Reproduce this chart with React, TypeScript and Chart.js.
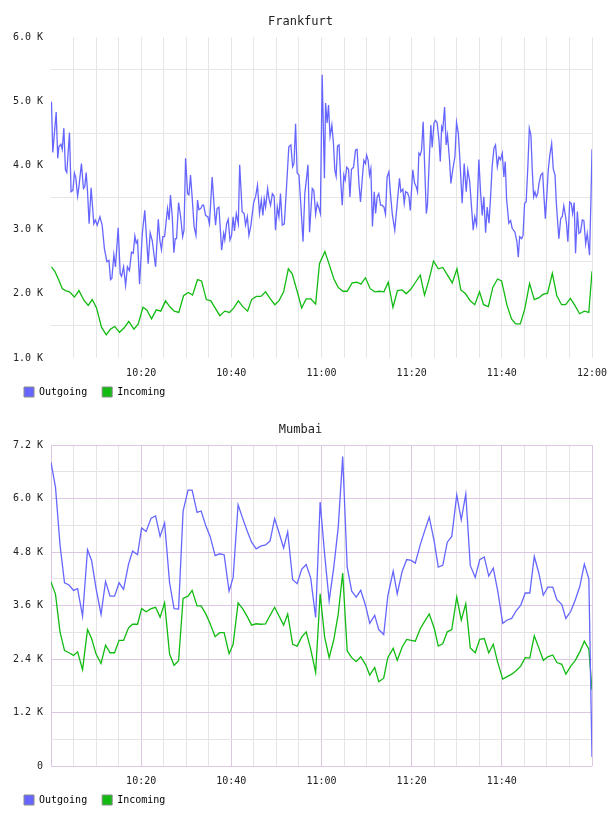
import React, { useEffect, useRef } from 'react';
import { Chart, registerables } from 'chart.js';

Chart.register(...registerables);

const FONT = "'DejaVu Sans Mono', monospace";
const OUT_COLOR = '#6666ff';
const IN_COLOR = '#11bb11';

// ---------- Frankfurt (minutes after 10:00, values in K) ----------
const frOutT = [
  0.1, 0.4, 1.15, 1.5, 1.75, 2.2, 2.5, 2.85, 3.2, 3.5,
  4.1, 4.45, 4.85, 5.2, 5.5, 5.9, 6.2, 6.75, 7.2, 7.5,
  7.8, 8.1, 8.45, 8.9, 9.5, 9.85, 10.25, 10.85, 11.35, 11.85,
  12.4, 12.85, 13.2, 13.5, 13.95, 14.3, 14.9, 15.35, 15.65, 16.1,
  16.55, 16.95, 17.4, 17.85, 18.25, 18.6, 18.9, 19.2, 19.65, 20.25,
  20.8, 21.55, 22.0, 22.45, 23.2, 23.8, 24.15, 24.5, 24.8, 25.2,
  25.85, 26.2, 26.5, 26.9, 27.25, 27.55, 27.85, 28.3, 28.75, 29.2,
  29.5, 29.85, 30.3, 30.6, 30.95, 31.3, 31.75, 32.15, 32.5, 32.8,
  33.25, 33.55, 33.85, 34.3, 34.8, 35.15, 35.75, 36.15, 36.5, 36.85,
  37.25, 37.85, 38.3, 38.55, 38.95, 39.3, 39.7, 40.05, 40.4, 40.7,
  41.1, 41.55, 41.85, 42.4, 42.85, 43.15, 43.55, 43.9, 44.35, 44.95,
  45.4, 45.8, 46.25, 46.65, 47.0, 47.3, 47.6, 48.05, 48.35, 48.7,
  49.1, 49.5, 49.8, 50.2, 50.55, 50.9, 51.3, 51.75, 52.2, 52.75,
  53.2, 53.6, 53.9, 54.25, 54.6, 55.0, 55.45, 55.9, 56.3, 57.0,
  57.35, 57.95, 58.3, 58.7, 59.05, 59.45, 59.75,
  60.15, 60.65, 60.9, 61.25, 61.55, 61.9, 62.3, 62.65, 62.95, 63.25,
  63.55, 63.9, 64.3, 64.6, 64.95, 65.25, 65.6, 66.0, 66.3, 66.65,
  67.1, 67.55, 67.9, 68.3, 68.65, 69.05, 69.4, 69.75, 70.0, 70.35,
  70.65, 70.95, 71.3, 71.7, 72.0, 72.35, 72.7, 73.1, 73.45, 73.85,
  74.2, 74.55, 74.95, 75.3, 75.7, 76.25, 76.8, 77.3, 77.6, 78.05,
  78.35, 78.65, 79.1, 79.4, 79.7, 80.25, 80.65, 81.0, 81.3, 81.6,
  81.9, 82.2, 82.55, 82.95, 83.25, 83.5, 83.9, 84.25, 84.55, 84.95,
  85.3, 85.65, 86.05, 86.35, 86.65, 86.9, 87.3, 87.65, 87.95, 88.4,
  88.7, 89.15, 89.6, 89.95, 90.35, 90.7, 91.2, 91.65, 92.1, 92.45,
  92.85, 93.3, 93.65, 94.0, 94.4, 94.9, 95.3, 95.65, 96.0, 96.4,
  96.75, 97.15, 97.5, 97.85, 98.25, 98.6, 99.0, 99.35, 99.7, 100.1,
  100.45, 100.75, 101.05, 101.55, 101.95, 102.3, 102.9, 103.35, 103.65, 103.95,
  104.4, 104.7, 105.05, 105.4, 105.8, 106.1, 106.45, 106.75, 107.05, 107.35,
  107.65, 107.95, 108.25, 108.65, 109.05, 109.35, 109.65, 110.0, 110.3, 110.65,
  111.05, 111.4, 111.8, 112.05, 112.35, 112.65, 113.05, 113.4, 113.75, 114.15,
  114.35, 114.65, 115.05, 115.4, 115.7, 116.05, 116.35, 116.75, 117.1, 117.45,
  117.85, 118.2, 118.6, 118.95, 119.15, 119.45, 119.75, 120.0,
];
const frOutV = [
  4.99, 4.20, 4.83, 4.11, 4.29, 4.33, 4.25, 4.58, 3.93, 3.89,
  4.51, 3.59, 3.61, 3.88, 3.81, 3.52, 3.67, 4.03, 3.64, 3.67,
  3.89, 3.60, 3.09, 3.65, 3.09, 3.15, 3.07, 3.20, 3.07, 2.70,
  2.50, 2.52, 2.22, 2.24, 2.61, 2.42, 3.03, 2.31, 2.27, 2.42,
  2.13, 2.42, 2.36, 2.65, 2.63, 2.90, 2.79, 2.83, 2.15, 2.94,
  3.30, 2.47, 2.95, 2.83, 2.42, 3.16, 2.83, 2.69, 2.89, 2.89,
  3.33, 3.15, 3.54, 3.20, 2.64, 2.86, 2.86, 3.42, 3.20, 2.89,
  2.99, 4.11, 3.56, 3.54, 3.85, 3.51, 3.04, 2.91, 3.46, 3.31,
  3.33, 3.38, 3.38, 3.22, 3.20, 3.09, 3.82, 3.40, 3.07, 3.33,
  3.35, 2.68, 2.94, 2.84, 3.09, 3.16, 2.84, 2.91, 3.20, 2.98,
  3.25, 3.09, 4.01, 3.28, 3.25, 3.07, 3.20, 2.91, 3.07, 3.42,
  3.52, 3.69, 3.25, 3.46, 3.22, 3.48, 3.35, 3.64, 3.48, 3.38,
  3.56, 3.52, 2.99, 3.35, 3.20, 3.56, 3.07, 3.09, 3.61, 4.29,
  4.32, 3.98, 4.03, 4.65, 3.88, 3.85, 3.35, 2.81, 3.56, 4.01,
  2.96, 3.64, 3.61, 3.24, 3.41, 3.33, 3.25,
  5.41, 3.80, 4.97, 4.66, 4.94, 4.45, 4.63, 4.34, 3.93, 3.83,
  4.30, 4.32, 3.72, 3.38, 3.85, 3.77, 3.97, 3.94, 3.51, 3.94,
  3.97, 4.24, 4.25, 3.72, 3.43, 3.80, 4.08, 4.03, 4.16, 4.08,
  3.85, 3.95, 3.05, 3.59, 3.25, 3.51, 3.56, 3.38, 3.38, 3.35,
  3.24, 3.82, 3.90, 3.56, 3.24, 2.99, 3.41, 3.80, 3.59, 3.63,
  3.41, 3.59, 3.57, 3.51, 3.30, 3.93, 3.72, 3.67, 3.59, 4.19,
  4.16, 4.24, 4.68, 3.85, 3.25, 3.38, 4.08, 4.63, 4.28, 4.66,
  4.70, 4.66, 4.40, 4.06, 4.60, 4.55, 4.91, 4.32, 4.47, 4.08,
  3.72, 3.95, 4.14, 4.67, 4.50, 4.08, 3.41, 4.03, 3.59, 3.93,
  3.76, 3.33, 2.99, 3.20, 3.07, 4.09, 3.56, 3.22, 3.51, 2.95,
  3.35, 3.10, 3.51, 3.98, 4.27, 4.32, 3.98, 4.13, 4.09, 4.19,
  3.82, 4.06, 3.48, 3.10, 3.14, 3.02, 2.96, 2.81, 2.57, 2.89,
  2.86, 2.91, 3.41, 3.43, 4.03, 4.58, 4.47, 3.93, 3.51, 3.59,
  3.51, 3.56, 3.72, 3.85, 3.88, 3.51, 3.17, 3.56, 3.93, 4.16,
  4.34, 3.95, 3.85, 3.46, 3.15, 2.86, 3.17, 3.20, 3.37, 3.20,
  3.09, 2.81, 3.43, 3.41, 3.25, 3.42, 2.63, 3.28, 2.94, 2.96,
  3.15, 3.14, 2.78, 2.94, 2.81, 2.60, 3.41, 4.25,
];
const frInT = [
  0.1, 0.85, 1.75, 2.5, 3.2, 4.1, 5.2, 6.2, 7.3, 8.25,
  9.15, 10.1, 11.2, 12.25, 13.2, 14.15, 15.2, 16.25, 17.25, 18.4,
  19.35, 20.4, 21.25, 22.3, 23.35, 24.35, 25.4, 26.45, 27.35, 28.35,
  29.4, 30.45, 31.4, 32.5, 33.4, 34.45, 35.45, 36.5, 37.45, 38.55,
  39.6, 40.55, 41.55, 42.55, 43.6, 44.5, 45.55, 46.55, 47.6, 48.65,
  49.65, 50.55, 51.6, 52.65, 53.5, 54.6, 55.6, 56.6, 57.65, 58.7,
  59.55, 60.75, 61.65, 62.75, 63.7, 64.75, 65.7, 66.8, 67.85, 68.75,
  69.75, 70.8, 71.85, 72.85, 73.85, 74.8, 75.85, 76.85, 77.9, 78.8,
  79.8, 80.85, 81.9, 82.85, 83.8, 84.85, 85.9, 86.9, 87.95, 89.0,
  90.05, 90.9, 91.95, 93.0, 94.0, 95.05, 95.95, 97.0, 98.0, 99.05,
  99.95, 101.15, 102.15, 103.05, 104.1, 105.1, 106.15, 107.2, 108.25, 109.1,
  110.15, 111.2, 112.2, 113.25, 114.15, 115.2, 116.2, 117.25, 118.3, 119.3,
  120.0,
];
const frInV = [
  2.42, 2.35, 2.21, 2.08, 2.05, 2.03, 1.95, 2.05, 1.90, 1.82,
  1.91, 1.78, 1.48, 1.36, 1.45, 1.49, 1.40, 1.47, 1.57, 1.45,
  1.53, 1.79, 1.75, 1.61, 1.75, 1.73, 1.89, 1.79, 1.73, 1.71,
  1.97, 2.02, 1.98, 2.22, 2.20, 1.91, 1.89, 1.77, 1.66, 1.73,
  1.71, 1.78, 1.89, 1.80, 1.73, 1.91, 1.96, 1.96, 2.03, 1.92,
  1.83, 1.89, 2.03, 2.39, 2.31, 2.04, 1.78, 1.92, 1.92, 1.84,
  2.47, 2.66, 2.47, 2.23, 2.10, 2.04, 2.04, 2.17, 2.18, 2.15,
  2.25, 2.08, 2.03, 2.04, 2.03, 2.18, 1.79, 2.05, 2.06, 2.00,
  2.07, 2.18, 2.29, 1.98, 2.21, 2.51, 2.39, 2.41, 2.29, 2.17,
  2.39, 2.06, 2.00, 1.89, 1.83, 2.03, 1.83, 1.80, 2.10, 2.23,
  2.20, 1.82, 1.61, 1.53, 1.53, 1.77, 2.16, 1.91, 1.94, 1.99,
  2.01, 2.32, 1.97, 1.83, 1.83, 1.93, 1.82, 1.69, 1.73, 1.71,
  2.35,
];

// ---------- Mumbai (minutes after 10:00, values in K) ----------
const muT = [
  0, 1.0, 2.0, 3.0, 4.0, 5.0, 5.9, 7.0, 8.1, 9.0,
  10.0, 11.1, 12.1, 13.1, 14.1, 15.1, 16.1, 17.2, 18.1, 19.2,
  20.1, 21.1, 22.2, 23.2, 24.2, 25.2, 26.3, 27.3, 28.3, 29.3,
  30.4, 31.3, 32.4, 33.3, 34.4, 35.3, 36.4, 37.4, 38.4, 39.5,
  40.4, 41.5, 42.5, 43.6, 44.5, 45.5, 46.5, 47.6, 48.6, 49.6,
  50.5, 51.6, 52.5, 53.6, 54.6, 55.6, 56.6, 57.6, 58.7, 59.7,
  60.7, 61.7, 62.7, 63.7, 64.7, 65.7, 66.7, 67.7, 68.7, 69.8,
  70.7, 71.8, 72.7, 73.8, 74.7, 75.9, 76.8, 77.9, 78.9, 79.9,
  80.8, 81.9, 82.9, 83.9, 85.0, 85.9, 86.9, 87.9, 88.9, 90.0,
  91.0, 92.0, 93.0, 94.1, 95.1, 96.1, 97.1, 98.1, 99.1, 100.2,
  101.1, 102.2, 103.1, 104.2, 105.2, 106.2, 107.2, 108.2, 109.2, 110.2,
  111.3, 112.2, 113.3, 114.2, 115.3, 116.3, 117.3, 118.3, 119.3, 120.0,
];
const muOutV = [
  6.81, 6.25, 4.96, 4.11, 4.06, 3.94, 3.98, 3.36, 4.85, 4.61,
  3.98, 3.40, 4.14, 3.81, 3.81, 4.11, 3.96, 4.53, 4.82, 4.74,
  5.34, 5.26, 5.56, 5.61, 5.15, 5.45, 4.11, 3.53, 3.52, 5.72,
  6.19, 6.19, 5.69, 5.72, 5.37, 5.15, 4.72, 4.76, 4.74, 3.92,
  4.23, 5.86, 5.56, 5.25, 5.02, 4.87, 4.93, 4.96, 5.05, 5.55,
  5.26, 4.89, 5.25, 4.18, 4.09, 4.41, 4.52, 4.22, 3.33, 5.92,
  4.74, 3.71, 4.44, 5.34, 6.94, 4.46, 3.92, 3.79, 3.94, 3.59,
  3.20, 3.38, 3.06, 2.95, 3.81, 4.37, 3.86, 4.37, 4.63, 4.61,
  4.55, 4.96, 5.28, 5.58, 5.04, 4.46, 4.50, 5.02, 5.15, 6.08,
  5.52, 6.10, 4.50, 4.23, 4.63, 4.69, 4.26, 4.44, 3.92, 3.20,
  3.27, 3.31, 3.47, 3.61, 3.88, 3.88, 4.70, 4.33, 3.83, 4.01,
  4.01, 3.73, 3.62, 3.31, 3.47, 3.73, 4.03, 4.53, 4.20, 0.20,
];
const muInV = [
  4.13, 3.85, 3.01, 2.59, 2.54, 2.48, 2.56, 2.16, 3.06, 2.86,
  2.51, 2.30, 2.71, 2.54, 2.54, 2.82, 2.82, 3.10, 3.18, 3.18,
  3.53, 3.46, 3.53, 3.56, 3.34, 3.66, 2.51, 2.26, 2.36, 3.76,
  3.81, 3.94, 3.59, 3.59, 3.40, 3.19, 2.90, 2.99, 2.99, 2.52,
  2.73, 3.66, 3.53, 3.34, 3.16, 3.19, 3.18, 3.19, 3.38, 3.56,
  3.38, 3.16, 3.41, 2.73, 2.69, 2.89, 3.01, 2.62, 2.10, 3.86,
  2.89, 2.43, 2.82, 3.40, 4.33, 2.58, 2.43, 2.34, 2.45, 2.27,
  2.04, 2.21, 1.89, 1.97, 2.43, 2.64, 2.37, 2.67, 2.84, 2.82,
  2.80, 3.08, 3.25, 3.41, 3.09, 2.69, 2.74, 3.01, 3.06, 3.79,
  3.27, 3.64, 2.65, 2.54, 2.84, 2.86, 2.54, 2.73, 2.32, 1.95,
  2.00, 2.06, 2.13, 2.24, 2.43, 2.42, 2.92, 2.65, 2.37, 2.45,
  2.49, 2.32, 2.28, 2.06, 2.24, 2.37, 2.56, 2.80, 2.62, 1.70,
];

const SERIES_LABELS = ['Outgoing', 'Incoming'];

const fmtTime = (m: number) => {
  const h = 10 + Math.floor(m / 60);
  const mm = m % 60;
  return `${h}:${mm < 10 ? '0' : ''}${mm}`;
};

const pts = (t: number[], v: number[]) => t.map((x, i) => ({ x, y: Math.round(v[i] * 1000) }));

function buildConfig(p: {
  title: string;
  outT: number[];
  outV: number[];
  inT: number[];
  inV: number[];
  yMin: number;
  yMax: number;
  yStep: number;
  yLabelEvery: number;
  mumbai: boolean;
}): any {
  const MAJOR = '#dcc6e2';
  const MINOR = '#e4e4e4';
  const FRGRID = '#e6e6e6';
  const isYLabel = (v: number) => Math.round(v - p.yMin) % p.yLabelEvery === 0;
  return {
    type: 'line',
    data: {
      datasets: [
        {
          label: SERIES_LABELS[0],
          data: pts(p.outT, p.outV),
          borderColor: OUT_COLOR,
          backgroundColor: OUT_COLOR,
          borderWidth: 1.3,
          pointRadius: 0,
          tension: 0,
        },
        {
          label: SERIES_LABELS[1],
          data: pts(p.inT, p.inV),
          borderColor: IN_COLOR,
          backgroundColor: IN_COLOR,
          borderWidth: 1.3,
          pointRadius: 0,
          tension: 0,
        },
      ],
    },
    options: {
      animation: false,
      responsive: false,
      devicePixelRatio: 1,
      layout: { padding: { left: 9, right: 16, top: 0, bottom: 1 }, autoPadding: false },
      plugins: {
        title: {
          display: true,
          text: p.title,
          color: '#222',
          font: { family: FONT, size: 12, weight: 'normal' },
          padding: { top: 14.6, bottom: 8 },
        },
        legend: {
          display: true,
          position: 'bottom',
          align: 'start',
          labels: {
            boxWidth: 10,
            boxHeight: 10,
            padding: 15,
            color: '#222',
            font: { family: FONT, size: 10 },
            generateLabels: (chart: any) =>
              chart.data.datasets.map((ds: any, i: number) => ({
                text: ds.label,
                fillStyle: ds.borderColor,
                strokeStyle: '#8a8a8a',
                lineWidth: 1,
                hidden: false,
                datasetIndex: i,
              })),
          },
        },
        tooltip: { enabled: false },
      },
      scales: {
        x: {
          type: 'linear',
          min: 0,
          max: 120,
          afterFit: (s: any) => {
            s.height = 14;
            s.paddingLeft = 0;
            s.paddingRight = 0;
            // let tick labels extend below the (short) axis box without being clipped
            s._computeLabelArea = () => undefined;
          },
          border: { display: false },
          grid: {
            drawTicks: false,
            lineWidth: 1,
            color: (c: any) => {
              const v = c.tick ? c.tick.value : 0;
              if (p.mumbai) return v % 20 === 0 ? MAJOR : MINOR;
              return v === 0 ? 'rgba(0,0,0,0)' : FRGRID;
            },
          },
          ticks: {
            stepSize: 5,
            autoSkip: false,
            maxRotation: 0,
            padding: 9,
            color: '#222',
            font: { family: FONT, size: 10 },
            callback: (val: any) => {
              const v = Number(val);
              if (v % 20 !== 0 || v === 0) return '';
              if (p.mumbai && v === 120) return '';
              return fmtTime(v);
            },
          },
        },
        y: {
          type: 'linear',
          min: p.yMin,
          max: p.yMax,
          afterFit: (s: any) => {
            s.width = 42;
            s.paddingTop = 0;
            s.paddingBottom = 0;
          },
          border: { display: false },
          grid: {
            drawTicks: false,
            lineWidth: 1,
            color: (c: any) => {
              const v = c.tick ? c.tick.value : 0;
              const lab = isYLabel(v);
              if (p.mumbai) return lab ? MAJOR : MINOR;
              return lab ? 'rgba(0,0,0,0)' : FRGRID;
            },
          },
          ticks: {
            stepSize: p.yStep,
            autoSkip: false,
            padding: 8,
            color: '#222',
            font: { family: FONT, size: 10 },
            callback: (val: any) => {
              const v = Number(val);
              if (!isYLabel(v)) return '';
              if (v === 0) return '0';
              return (v / 1000).toFixed(1) + ' K';
            },
          },
        },
      },
    },
  };
}

function ChartCanvas({ config }: { config: any }) {
  const ref = useRef<HTMLCanvasElement | null>(null);
  useEffect(() => {
    if (!ref.current) return;
    const chart = new Chart(ref.current, config);
    return () => chart.destroy();
  }, []);
  return (
    <canvas
      ref={ref}
      width={608}
      height={408}
      style={{ display: 'block', width: 608, height: 408 }}
    />
  );
}

export default function App() {
  const fr = buildConfig({
    title: 'Frankfurt',
    outT: frOutT,
    outV: frOutV,
    inT: frInT,
    inV: frInV,
    yMin: 1000,
    yMax: 6000,
    yStep: 500,
    yLabelEvery: 1000,
    mumbai: false,
  });
  const mu = buildConfig({
    title: 'Mumbai',
    outT: muT,
    outV: muOutV,
    inT: muT,
    inV: muInV,
    yMin: 0,
    yMax: 7200,
    yStep: 600,
    yLabelEvery: 1200,
    mumbai: true,
  });
  return (
    <div style={{ position: 'absolute', left: 0, top: 0, width: 608, height: 816, background: '#fff' }}>
      <ChartCanvas config={fr} />
      <ChartCanvas config={mu} />
    </div>
  );
}
